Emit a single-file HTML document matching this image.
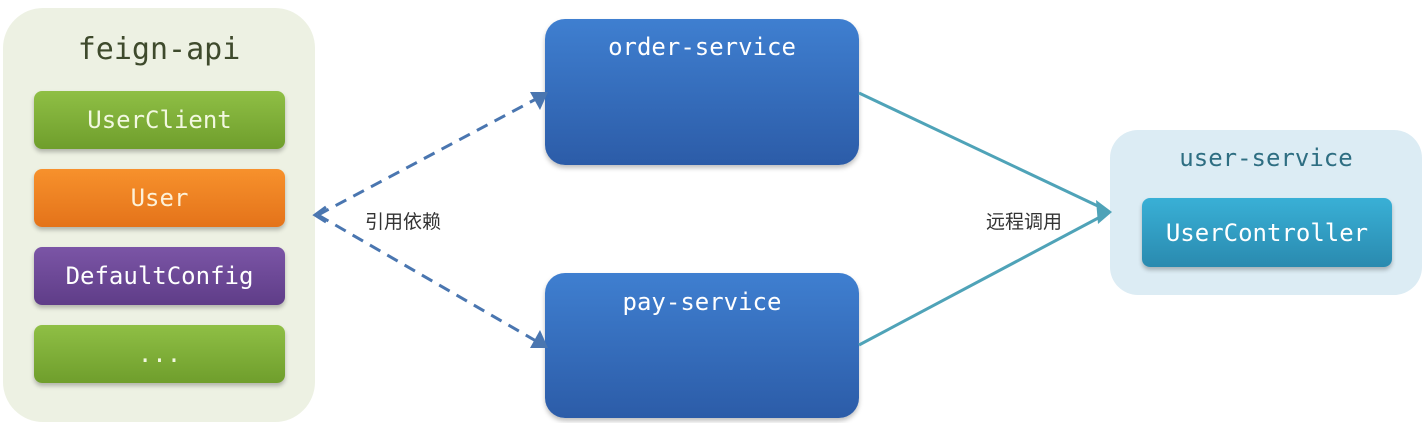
<!DOCTYPE html>
<html><head><meta charset="utf-8"><style>
body{margin:0;width:1426px;height:423px;background:#fff;position:relative;overflow:hidden;font-family:"DejaVu Sans Mono","Liberation Mono",monospace}
.a{position:absolute;box-sizing:border-box}
.t{display:flex;align-items:center;justify-content:center;color:#fff;font-size:24px;font-weight:500}
.c{font-family:"Liberation Sans","Noto Sans CJK SC",sans-serif;font-size:19px;color:#333}
</style></head><body>
<div class="a" style="left:3px;top:8px;width:312px;height:414px;border-radius:40px;background:#edf1e3"></div>
<div class="a t" style="left:3px;top:26px;width:312px;height:46px;font-size:30px;color:#3e4a2c">feign-api</div>
<div class="a t" style="left:34px;top:91px;width:251px;height:58px;border-radius:8px;background:linear-gradient(#8fbf45,#6f9e2c);box-shadow:0 3px 4px rgba(0,0,0,.25);color:#f2f8e0">UserClient</div>
<div class="a t" style="left:34px;top:169px;width:251px;height:58px;border-radius:8px;background:linear-gradient(#f7912c,#e4731a);box-shadow:0 3px 4px rgba(0,0,0,.25);color:#fdf1d8">User</div>
<div class="a t" style="left:34px;top:247px;width:251px;height:58px;border-radius:8px;background:linear-gradient(#7b55a6,#5f3d88);box-shadow:0 3px 4px rgba(0,0,0,.25)">DefaultConfig</div>
<div class="a t" style="left:34px;top:325px;width:251px;height:58px;border-radius:8px;background:linear-gradient(#8fbf45,#6f9e2c);box-shadow:0 3px 4px rgba(0,0,0,.25);color:#f2f8e0">...</div>

<div class="a" style="left:545px;top:19px;width:314px;height:146px;border-radius:20px;background:linear-gradient(#3f7fd0,#2c5ca8);box-shadow:0 3px 5px rgba(0,0,0,.25)"></div>
<div class="a t" style="left:545px;top:32px;width:314px;height:30px">order-service</div>
<div class="a" style="left:545px;top:273px;width:314px;height:145px;border-radius:20px;background:linear-gradient(#3f7fd0,#2c5ca8);box-shadow:0 3px 5px rgba(0,0,0,.25)"></div>
<div class="a t" style="left:545px;top:287px;width:314px;height:30px">pay-service</div>

<div class="a" style="left:1110px;top:130px;width:312px;height:165px;border-radius:28px;background:#dcecf4"></div>
<div class="a t" style="left:1110px;top:143px;width:312px;height:30px;color:#2e6e82">user-service</div>
<div class="a t" style="left:1142px;top:198px;width:250px;height:69px;border-radius:8px;background:linear-gradient(#39b0d6,#2a8aaf);box-shadow:0 3px 4px rgba(0,0,0,.25)">UserController</div>

<svg class="a" style="left:0;top:0" width="1426" height="423">
<g stroke="#4a76b0" stroke-width="3" fill="none" stroke-dasharray="12,8">
<line x1="318" y1="215" x2="536" y2="99"/>
<line x1="318" y1="215" x2="536" y2="341"/>
</g>
<polygon points="548,92 530,92 540,110" fill="#4a76b0"/>
<polygon points="548,348 540,330 530,348" fill="#4a76b0"/>
<polyline points="326,207 315,215 326,222" stroke="#4a76b0" stroke-width="3" fill="none"/>
<g stroke="#4fa3b8" stroke-width="3" fill="none">
<line x1="859" y1="93" x2="1102" y2="208"/>
<line x1="859" y1="345" x2="1102" y2="216"/>
</g>
<polygon points="1112,212 1096,200 1098,224" fill="#4fa3b8"/>
</svg>
<div class="a c" style="left:365px;top:207px">引用依赖</div>
<div class="a c" style="left:986px;top:207px">远程调用</div>
</body></html>
